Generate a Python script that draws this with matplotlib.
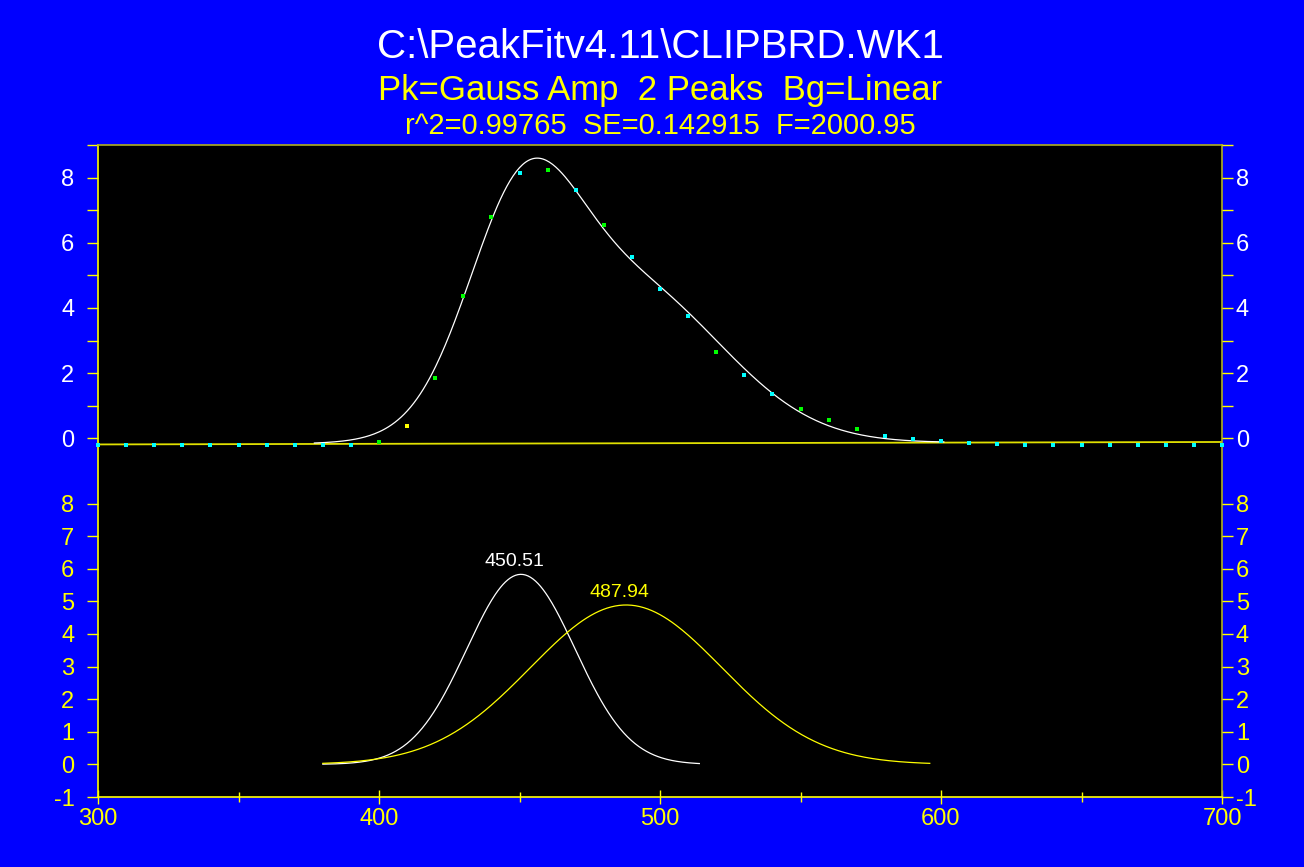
import numpy as np
import matplotlib
matplotlib.use("Agg")
import matplotlib.pyplot as plt
import matplotlib.transforms as mtransforms

plt.rcParams['font.family'] = ['Liberation Sans', 'DejaVu Sans']

# ---------------- data ----------------
title_main = "C:\\PeakFitv4.11\\CLIPBRD.WK1"
title_fit = "Pk=Gauss Amp  2 Peaks  Bg=Linear"
title_stats = "r^2=0.99765  SE=0.142915  F=2000.95"

x_data = [300, 310, 320, 330, 340, 350, 360, 370, 380, 390,
          400, 410, 420, 430, 440, 450, 460, 470, 480, 490,
          500, 510, 520, 530, 540, 550, 560, 570, 580, 590,
          600, 610, 620, 630, 640, 650, 660, 670, 680, 690, 700]
y_data = [-0.19, -0.19, -0.19, -0.20, -0.19, -0.19, -0.19, -0.19, -0.20, -0.19,
          -0.12, 0.38, 1.85, 4.38, 6.78, 8.14, 8.22, 7.62, 6.56, 5.55,
          4.58, 3.75, 2.66, 1.94, 1.36, 0.89, 0.55, 0.28, 0.08, -0.02,
          -0.08, -0.13, -0.16, -0.19, -0.19, -0.19, -0.19, -0.19, -0.19, -0.19, -0.19]
# point colour class (residual band): c = cyan, g = green, y = yellow
point_class = ['c', 'c', 'c', 'c', 'c', 'c', 'c', 'c', 'c', 'c',
               'g', 'y', 'g', 'g', 'g', 'c', 'g', 'c', 'g', 'c',
               'c', 'c', 'g', 'c', 'c', 'g', 'g', 'g', 'c', 'c',
               'c', 'c', 'c', 'c', 'c', 'c', 'c', 'c', 'c', 'c', 'c']

baseline_x = [300, 700]
baseline_y = [-0.185, -0.11]

peak_centers = [450.51, 487.94]
peak_amps = [5.83, 4.89]
peak_sigmas = [19.3, 34.1]
peak_ranges = [(380, 514), (380, 596)]
peak_labels = ["450.51", "487.94"]
fit_range = (377, 601)

x_ticks_major = [300, 400, 500, 600, 700]
x_ticks_minor = [350, 450, 550, 650]
upper_ticks = [0, 1, 2, 3, 4, 5, 6, 7, 8, 9]
lower_ticks = [-1, 0, 1, 2, 3, 4, 5, 6, 7, 8]

# ---------------- style ----------------
BLUE = '#0000FF'
YEL = '#FFFF00'
OLIVE = '#B0B020'
class_colors = {'c': '#00FFFF', 'g': '#00FF00', 'y': '#FFFF00'}
UPPER_OFFSET = 10  # upper panel drawn 10 units above the lower panel

fig = plt.figure(figsize=(13.04, 8.67), dpi=100, facecolor=BLUE)
ax = fig.add_axes([98 / 1304, 70 / 867, 1124 / 1304, 652 / 867])
ax.set_facecolor('black')
ax.set_xlim(300, 700)
ax.set_ylim(-1, 19)

upper = mtransforms.Affine2D().translate(0, UPPER_OFFSET) + ax.transData


def gauss(x, a, c, s):
    return a * np.exp(-(x - c) ** 2 / (2 * s ** 2))


# upper panel: baseline, fit, data
ax.plot(baseline_x, baseline_y, color='#E0E000', lw=1.3, transform=upper, zorder=2)
xf = np.linspace(fit_range[0], fit_range[1], 400)
yf = np.interp(xf, baseline_x, baseline_y)
for a, c, s in zip(peak_amps, peak_centers, peak_sigmas):
    yf = yf + gauss(xf, a, c, s)
ax.plot(xf, yf, color='white', lw=0.9, transform=upper, zorder=3)
for xv, yv, cl in zip(x_data, y_data, point_class):
    ax.plot([xv], [yv], marker='s', ms=3.2, mew=0, color=class_colors[cl],
            transform=upper, zorder=4, ls='none', clip_on=False)

# lower panel: individual peaks
peak_colors = ['white', YEL]
for (lo, hi), a, c, s, col, lab in zip(peak_ranges, peak_amps, peak_centers,
                                       peak_sigmas, peak_colors, peak_labels):
    xp = np.linspace(lo, hi, 300)
    ax.plot(xp, gauss(xp, a, c, s), color=col, lw=0.9, zorder=3)
    ax.annotate(lab, (c, a), xytext=(-5, 3), textcoords='offset points',
                ha='center', va='bottom', color=col, fontsize=14)

# spines
for side in ['left', 'bottom']:
    ax.spines[side].set_color(YEL)
    ax.spines[side].set_linewidth(1.2)
for side in ['top', 'right']:
    ax.spines[side].set_color(OLIVE)
    ax.spines[side].set_linewidth(1.2)

# x ticks
ax.set_xticks(x_ticks_major)
ax.set_xticklabels([str(v) for v in x_ticks_major])
ax.set_xticks(x_ticks_minor, minor=True)
ax.tick_params(axis='x', which='both', direction='inout', colors=YEL,
               labelsize=17, pad=3)
ax.tick_params(axis='x', which='major', length=10, width=1)
ax.tick_params(axis='x', which='minor', length=7, width=1)

# y ticks
ytick_pos = lower_ticks + [t + UPPER_OFFSET for t in upper_ticks]
ytick_lab = [str(t) for t in lower_ticks] + \
            [str(t) if t % 2 == 0 and t < 9 else '' for t in upper_ticks]
ytick_col = [YEL] * len(lower_ticks) + ['white'] * len(upper_ticks)

ax2 = ax.twinx()
ax2.set_ylim(ax.get_ylim())
for side in ['left', 'bottom', 'top', 'right']:
    ax2.spines[side].set_visible(False)

for a_, pad in [(ax, 9), (ax2, 2)]:
    a_.set_yticks(ytick_pos)
    a_.set_yticklabels(ytick_lab)
    a_.tick_params(axis='y', direction='out', length=8, width=1,
                   colors=YEL, labelsize=17, pad=pad)
    for lbl, col in zip(a_.get_yticklabels(), ytick_col):
        lbl.set_color(col)

# titles
cx = (98 + 1222) / 2 / 1304
fig.text(cx, 1 - 58 / 867, title_main, color='white', fontsize=29,
         ha='center', va='baseline')
fig.text(cx, 1 - 100 / 867, title_fit, color=YEL, fontsize=25,
         ha='center', va='baseline')
fig.text(cx, 1 - 134 / 867, title_stats, color=YEL, fontsize=21,
         ha='center', va='baseline')

fig.savefig('out.png', dpi=100, facecolor=BLUE)
